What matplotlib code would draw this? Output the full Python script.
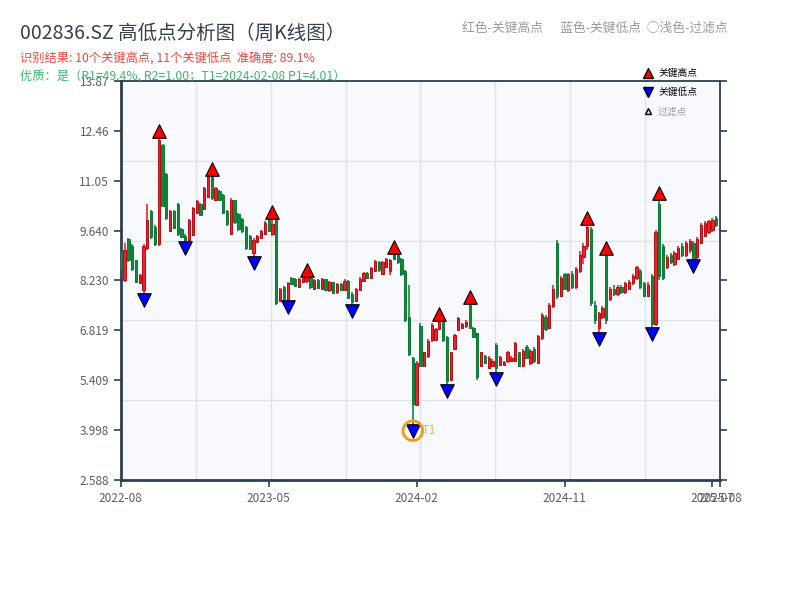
import matplotlib
matplotlib.use("Agg")
import matplotlib.pyplot as plt
import numpy as np
from matplotlib.lines import Line2D

plt.rcParams['font.family'] = ['Noto Sans CJK SC', 'DejaVu Sans']

opens = [9.05, 8.25, 9.40, 9.20, 8.80, 8.15, 7.95, 9.15, 10.20, 9.75,
         9.25, 12.05, 11.25, 9.62, 10.20, 10.40, 9.70, 9.50, 9.38, 9.52,
         10.15, 10.40, 10.25, 10.60, 11.18, 10.52, 10.75, 10.65, 10.20, 9.55,
         10.50, 10.12, 9.98, 9.75, 9.50, 9.00, 9.33, 9.44, 9.55, 9.94,
         9.55, 9.98, 7.65, 8.06, 7.72, 8.30, 8.27, 8.06, 8.20, 8.22,
         8.30, 8.00, 8.24, 8.00, 8.26, 7.95, 8.18, 7.90, 8.14, 7.96,
         8.22, 7.85, 7.65, 7.95, 8.22, 8.45, 8.30, 8.50, 8.75, 8.40,
         8.60, 8.50, 9.00, 8.95, 8.85, 8.50, 7.20, 6.05, 4.72, 6.95,
         5.80, 6.10, 6.55, 6.56, 6.86, 7.10, 6.63, 5.42, 6.30, 6.83,
         6.88, 6.95, 7.55, 6.90, 6.74, 5.80, 6.10, 5.75, 5.80, 6.40,
         5.85, 5.85, 5.95, 5.95, 5.95, 6.20, 5.80, 6.35, 5.90, 6.30,
         5.90, 6.60, 7.20, 6.90, 7.50, 9.30, 7.80, 8.40, 7.95, 8.40,
         8.05, 8.50, 8.90, 9.20, 9.70, 7.55, 6.90, 7.20, 8.95, 7.70,
         8.00, 7.85, 8.05, 7.90, 8.00, 8.15, 8.30, 8.50, 8.15, 7.80,
         8.35, 7.00, 10.40, 9.20, 8.60, 8.95, 8.70, 8.85, 9.20, 8.95,
         9.10, 9.30, 8.90, 9.30, 9.50, 9.60, 9.65, 10.00, 10.10]
highs = [9.10, 9.30, 9.42, 9.25, 8.82, 8.42, 9.25, 10.40, 10.22, 9.80,
         12.30, 12.08, 11.28, 10.22, 10.22, 10.42, 9.72, 9.55, 9.96, 10.32,
         10.52, 10.42, 10.88, 11.18, 11.20, 10.88, 10.78, 10.68, 10.23, 10.56,
         10.52, 10.14, 10.00, 9.78, 9.52, 9.42, 9.52, 9.66, 9.90, 9.96,
         9.99, 10.00, 8.02, 8.08, 8.20, 8.32, 8.29, 8.30, 8.33, 8.36,
         8.33, 8.28, 8.26, 8.30, 8.28, 8.22, 8.20, 8.16, 8.16, 8.26,
         8.24, 7.90, 8.02, 8.32, 8.46, 8.47, 8.62, 8.82, 8.77, 8.77,
         8.87, 8.85, 9.02, 8.99, 8.87, 8.52, 8.10, 6.08, 5.95, 7.02,
         6.22, 6.57, 7.02, 6.90, 7.10, 7.12, 6.65, 6.22, 6.72, 7.20,
         7.02, 7.10, 7.60, 6.92, 6.75, 6.22, 6.12, 6.10, 6.00, 6.46,
         6.10, 5.96, 6.25, 6.10, 6.50, 6.22, 6.28, 6.40, 6.30, 6.35,
         6.70, 7.30, 7.25, 7.60, 8.10, 9.37, 8.35, 8.45, 8.45, 8.50,
         8.60, 9.05, 9.30, 9.82, 9.75, 7.65, 7.35, 7.50, 8.98, 8.05,
         8.10, 8.10, 8.10, 8.20, 8.25, 8.40, 8.65, 8.55, 8.20, 8.20,
         8.40, 9.65, 10.53, 9.25, 8.95, 9.00, 9.05, 9.20, 9.30, 9.35,
         9.40, 9.35, 9.45, 9.85, 9.90, 9.95, 10.00, 10.05, 10.15]
lows = [8.50, 8.20, 8.75, 8.50, 8.15, 8.12, 7.86, 9.10, 9.40, 9.20,
        9.20, 10.30, 9.95, 9.60, 9.70, 9.50, 9.42, 9.33, 9.36, 9.50,
        10.12, 10.05, 10.22, 10.55, 10.50, 10.50, 10.48, 10.12, 9.78, 9.52,
        9.84, 9.64, 9.58, 9.10, 9.08, 8.90, 9.30, 9.42, 9.52, 9.60,
        9.50, 7.55, 7.62, 7.68, 7.66, 8.10, 8.05, 8.04, 8.18, 8.15,
        8.00, 7.95, 7.98, 7.96, 7.92, 7.90, 7.85, 7.86, 7.92, 7.94,
        7.70, 7.55, 7.62, 7.92, 8.20, 8.28, 8.28, 8.48, 8.48, 8.38,
        8.58, 8.38, 8.80, 8.70, 8.35, 7.05, 6.10, 4.15, 4.70, 5.78,
        5.78, 6.05, 6.50, 6.52, 6.84, 6.50, 5.27, 5.40, 6.28, 6.80,
        6.85, 6.90, 6.86, 6.60, 5.41, 5.78, 5.86, 5.72, 5.78, 5.62,
        5.82, 5.82, 5.90, 5.92, 5.93, 5.78, 5.78, 6.00, 5.85, 5.90,
        5.88, 6.55, 6.80, 6.85, 7.45, 7.70, 7.75, 7.95, 7.90, 8.00,
        8.00, 8.45, 8.70, 9.10, 7.50, 7.00, 6.75, 7.15, 7.00, 7.65,
        7.80, 7.80, 7.85, 7.85, 7.95, 8.10, 8.25, 8.00, 7.75, 7.75,
        6.88, 6.95, 8.25, 8.25, 8.55, 8.70, 8.65, 8.80, 8.90, 8.90,
        9.00, 8.80, 8.85, 9.25, 9.45, 9.55, 9.60, 9.75, 9.55]
closes = [8.55, 9.10, 8.80, 8.55, 8.20, 8.38, 9.20, 9.95, 9.45, 9.25,
          12.20, 10.35, 10.00, 10.20, 9.72, 9.55, 9.45, 9.38, 9.94, 10.28,
          10.48, 10.08, 10.85, 11.15, 10.55, 10.85, 10.52, 10.15, 9.82, 10.52,
          9.88, 9.68, 9.62, 9.14, 9.12, 9.38, 9.50, 9.63, 9.87, 9.63,
          9.82, 7.60, 8.00, 7.72, 8.15, 8.12, 8.08, 8.28, 8.33, 8.32,
          8.04, 8.24, 8.02, 8.27, 7.95, 8.18, 7.88, 8.13, 7.95, 8.22,
          7.74, 7.62, 7.98, 8.28, 8.43, 8.30, 8.58, 8.78, 8.52, 8.74,
          8.84, 8.80, 8.83, 8.74, 8.40, 7.10, 6.15, 4.75, 5.90, 5.82,
          6.20, 6.52, 6.96, 6.86, 7.06, 6.55, 5.40, 6.20, 6.70, 7.16,
          7.00, 7.06, 6.90, 6.62, 5.50, 6.20, 5.90, 6.05, 5.96, 5.75,
          6.06, 5.92, 6.20, 6.05, 6.45, 5.82, 6.25, 6.05, 6.25, 5.95,
          6.65, 7.25, 6.85, 7.55, 8.00, 7.80, 8.30, 8.00, 8.40, 8.05,
          8.55, 8.95, 9.20, 9.75, 7.60, 7.10, 7.30, 7.45, 7.10, 8.00,
          7.85, 8.05, 7.90, 8.15, 8.20, 8.35, 8.60, 8.05, 7.80, 8.10,
          7.00, 9.60, 8.35, 8.30, 8.90, 8.75, 9.00, 9.15, 8.95, 9.30,
          9.35, 8.85, 9.40, 9.80, 9.85, 9.90, 9.95, 9.80, 9.60]

key_high_idx = [10, 24, 40, 49, 72, 84, 92, 123, 128, 142]
key_low_idx = [6, 17, 35, 44, 61, 77, 86, 99, 126, 140, 151]
t1_idx = 77
tick_idx = [0, 39, 78, 117, 156, 158]
tick_labels = ["2022-08", "2023-05", "2024-02", "2024-11", "2025-07", "2025-08"]
y_min, y_max = 2.58755, 13.8719

title = "002836.SZ 高低点分析图（周K线图）"
line_result = "识别结果: 10个关键高点, 11个关键低点  准确度: 89.1%"
line_quality = "优质：是（R1=49.4%, R2=1.00；T1=2024-02-08 P1=4.01）"
header_right = "红色-关键高点      蓝色-关键低点  ○浅色-过滤点"

o = np.array(opens); h = np.array(highs); l = np.array(lows); c = np.array(closes)
x = np.arange(len(o))
up = c >= o

RED_F, RED_E = "#f0202a", "#b80d14"
GRN_F, GRN_E = "#0f8a3c", "#0c7a34"

fig = plt.figure(figsize=(8, 6), dpi=100)
ax = fig.add_axes([0.151, 0.2, 0.749, 0.665])
ax.set_facecolor("#f7f9fc")

for f in np.arange(1, 8) / 8:
    ax.plot([f, f], [0, 1], transform=ax.transAxes, color="#dfe3e9", lw=1, zorder=0)
for f in np.arange(1, 5) / 5:
    ax.plot([0, 1], [f, f], transform=ax.transAxes, color="#dfe3e9", lw=1, zorder=0)

wick_cols = np.where(up, RED_F, GRN_F)
ax.vlines(x, l, h, colors=wick_cols, lw=1.2, zorder=2)
body_bottom = np.minimum(o, c)
body_h = np.maximum(np.abs(c - o), 0.02)
ax.bar(x[up], body_h[up], bottom=body_bottom[up], width=0.6,
       color=RED_F, edgecolor=RED_E, lw=0.7, zorder=3)
ax.bar(x[~up], body_h[~up], bottom=body_bottom[~up], width=0.6,
       color=GRN_F, edgecolor=GRN_E, lw=0.7, zorder=3)

off = 0.015 * (y_max - y_min)
kh = np.array(key_high_idx); kl = np.array(key_low_idx)
ax.scatter(kh, h[kh] + off, marker="^", s=95, c="#ff0000", edgecolors="black",
           linewidths=0.8, zorder=5)
ax.scatter(kl, l[kl] - off, marker="v", s=95, c="#0000ff", edgecolors="black",
           linewidths=0.8, zorder=5)
ax.scatter([t1_idx], [l[t1_idx] - off], marker="o", s=200, facecolors="none",
           edgecolors="#f39c12", linewidths=2, zorder=6)
ax.text(t1_idx + 2.4, l[t1_idx] - off, "T1", color="#f5b041", fontsize=9,
        va="center", ha="left", zorder=6)

ax.set_xlim(0, len(o) - 1)
ax.set_ylim(y_min, y_max)
yt = np.linspace(y_min, y_max, 9)
ax.set_yticks(yt)
ax.set_yticklabels([f"{v:#.4g}" for v in yt])
ax.set_xticks(tick_idx)
ax.set_xticklabels(tick_labels)
ax.tick_params(axis="both", colors="#2c3e50", labelcolor="#555e6b", labelsize=8.5,
               length=5, width=1.2)
ax.tick_params(axis="y", right=True)
for s in ax.spines.values():
    s.set_color("#2c3e50")
    s.set_linewidth(1.3)
ax.spines["left"].set_linewidth(2)
ax.spines["bottom"].set_linewidth(2)

fig.text(0.025, 0.945, title, fontsize=14, color="#34404d", va="center", ha="left")
fig.text(0.025, 0.902, line_result, fontsize=8.8, color="#e8493f", va="center", ha="left")
fig.text(0.025, 0.873, line_quality, fontsize=8.8, color="#3cb86a", va="center", ha="left")
fig.text(0.909, 0.953, header_right, fontsize=9.2, color="#9a9a9a", va="center", ha="right")

handles = [
    Line2D([], [], ls="none", marker="^", color="#ff0000", markeredgecolor="black", markersize=7.5),
    Line2D([], [], ls="none", marker="v", color="#0000ff", markeredgecolor="black", markersize=7.5),
    Line2D([], [], ls="none", marker="^", color="#ffd6d6", markeredgecolor="black", markersize=5),
]
leg = fig.legend(handles, ["关键高点", "关键低点", "过滤点"], loc="upper left",
                 bbox_to_anchor=(0.797, 0.898), frameon=False, fontsize=7,
                 handlelength=0.8, handletextpad=0.6, labelspacing=0.95,
                 borderpad=0.2)
leg.get_texts()[2].set_color("#999999")

fig.savefig("out.png", dpi=100)
